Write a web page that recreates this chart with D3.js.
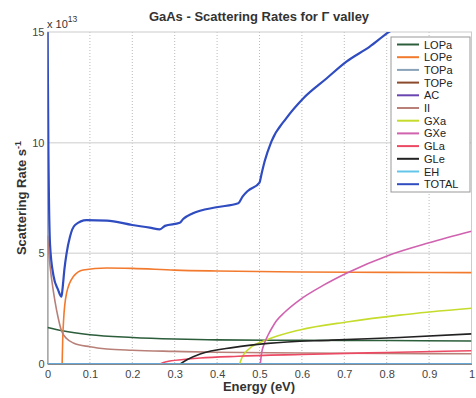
<!DOCTYPE html>
<html>
<head>
<meta charset="utf-8">
<script src="https://cdn.jsdelivr.net/npm/d3@7"></script>
<style>
  body { margin: 0; background: #fff; }
  svg { font-family: "Liberation Sans", Arial, sans-serif; }
</style>
</head>
<body>
<svg width="476" height="398"></svg>
<script>
// scattering rates (x 1e13 s^-1) vs energy (eV)
var LOPa = [[0,1.65],[0.035,1.5],[0.1,1.32],[0.2,1.2],[0.3,1.13],[0.4,1.09],[0.6,1.07],[0.8,1.06],[1.0,1.04]];
var LOPe = [[0.0345,0],[0.036,1.2],[0.038,2.0],[0.045,3.2],[0.061,3.95],[0.084,4.25],[0.14,4.34],[0.2,4.32],[0.3,4.24],[0.4,4.2],[0.6,4.16],[0.8,4.14],[1.0,4.13]];
var TOPa = [[0,0],[1,0]];
var TOPe = [[0,0],[1,0]];
var AC   = [[0,0],[1,0]];
var II   = [[0,5.8],[0.005,4.6],[0.01,3.8],[0.018,2.8],[0.025,2.1],[0.033,1.5],[0.045,1.15],[0.061,0.95],[0.1,0.78],[0.14,0.68],[0.2,0.62],[0.3,0.57],[0.4,0.53],[0.6,0.5],[0.8,0.48],[1.0,0.46]];
var GXa  = [[0.453,0],[0.46,0.35],[0.477,0.71],[0.516,1.08],[0.595,1.54],[0.71,1.91],[0.83,2.21],[1.0,2.52]];
var GXe  = [[0.502,0],[0.505,0.5],[0.51,0.85],[0.52,1.3],[0.53,1.65],[0.54,1.95],[0.56,2.35],[0.595,2.9],[0.65,3.55],[0.705,4.1],[0.807,4.93],[0.9,5.48],[1.0,6.0]];
var GLa  = [[0.265,0],[0.28,0.1],[0.32,0.2],[0.36,0.27],[0.45,0.35],[0.6,0.43],[0.8,0.52],[1.0,0.6]];
var GLe  = [[0.313,0],[0.33,0.2],[0.36,0.45],[0.44,0.75],[0.52,0.93],[0.67,1.08],[0.83,1.2],[1.0,1.36]];
var EH   = [[0,0],[1,0]];
var TOTAL = [[0,15.5],[0.002,10],[0.006,5.4],[0.014,4.0],[0.025,3.35],[0.033,3.04],[0.036,3.5],[0.04,4.3],[0.045,5.0],[0.053,5.75],[0.065,6.28],[0.092,6.5],[0.14,6.48],[0.2,6.28],[0.241,6.16],[0.265,6.08],[0.277,6.24],[0.312,6.38],[0.32,6.55],[0.343,6.81],[0.398,7.08],[0.45,7.26],[0.46,7.56],[0.473,7.83],[0.5,8.2],[0.505,8.6],[0.512,9.15],[0.528,10.05],[0.563,11.1],[0.603,12.0],[0.658,12.9],[0.705,13.66],[0.76,14.34],[0.803,14.97],[0.85,15.5]];

var names  = ['LOPa','LOPe','TOPa','TOPe','AC','II','GXa','GXe','GLa','GLe','EH','TOTAL'];
var series = [LOPa, LOPe, TOPa, TOPe, AC, II, GXa, GXe, GLa, GLe, EH, TOTAL];
var colors = ['#2c5e3c','#f27a2e','#8aa3b8','#8b4a2b','#6a44b0','#b88078','#c6dc2c','#d062b0','#ec4a64','#222222','#62c6ea','#2f4cc0'];

var xTicks = [0,0.1,0.2,0.3,0.4,0.5,0.6,0.7,0.8,0.9,1];
var yTicks = [0,5,10,15];

var svg = d3.select('svg');
var pLeft = 47.5, pRight = 471.5, pTop = 32, pBottom = 364;

var scaleX = d3.scaleLinear().domain([0,1]).range([pLeft,pRight]);
var scaleY = d3.scaleLinear().domain([0,15]).range([pBottom,pTop]);

svg.append('defs').append('clipPath').attr('id','plot')
    .append('rect')
    .attr('x',pLeft).attr('y',pTop)
    .attr('width',pRight-pLeft).attr('height',pBottom-pTop);

// grid
svg.append('g')
    .selectAll('line')
    .data(xTicks.slice(1,-1))
    .enter()
    .append('line')
    .attr('x1',function(d){ return scaleX(d); })
    .attr('x2',function(d){ return scaleX(d); })
    .attr('y1',pTop).attr('y2',pBottom)
    .attr('stroke','#bbb')
    .attr('stroke-dasharray','1,2');

svg.append('g')
    .selectAll('line')
    .data([5,10])
    .enter()
    .append('line')
    .attr('x1',pLeft).attr('x2',pRight)
    .attr('y1',function(d){ return scaleY(d); })
    .attr('y2',function(d){ return scaleY(d); })
    .attr('stroke','#ddd')
    .attr('stroke-width',1.5);

svg.append('rect')
    .attr('x',pLeft).attr('y',pTop)
    .attr('width',pRight-pLeft).attr('height',pBottom-pTop)
    .attr('fill','none')
    .attr('stroke','#ccc');

// axes
var xAxis = svg.append('g')
    .attr('transform','translate(0,'+pBottom+')')
    .call(d3.axisBottom(scaleX).tickValues(xTicks).tickSize(0).tickPadding(6).tickFormat(d3.format('')));
var yAxis = svg.append('g')
    .attr('transform','translate('+pLeft+',0)')
    .call(d3.axisLeft(scaleY).tickValues(yTicks).tickSize(0).tickPadding(3));
[xAxis, yAxis].forEach(function(a){
    a.select('.domain').attr('stroke','#888');
    a.selectAll('text').attr('font-size',11).attr('fill','#444').attr('font-family','"Liberation Sans", Arial, sans-serif');
});

// curves
var line = d3.line()
    .x(function(d){ return scaleX(d[0]); })
    .y(function(d){ return scaleY(d[1]); })
    .curve(d3.curveMonotoneX);

svg.append('g')
    .attr('clip-path','url(#plot)')
    .selectAll('path')
    .data(series)
    .enter()
    .append('path')
    .attr('d',line)
    .attr('fill','none')
    .attr('stroke',function(d,i){ return colors[i]; })
    .attr('stroke-width',function(d,i){ return names[i]=='TOTAL' ? 2.2 : 1.6; });

// legend
var lg = svg.append('g').attr('transform','translate(391,37)');
lg.append('rect')
    .attr('width',79).attr('height',155)
    .attr('fill','#fff')
    .attr('stroke','#999');
var item = lg.selectAll('g.item')
    .data(names)
    .enter()
    .append('g')
    .attr('class','item')
    .attr('transform',function(d,i){ return 'translate(0,'+(7.5+i*12.7)+')'; });
item.append('line')
    .attr('x1',6).attr('x2',28)
    .attr('stroke',function(d,i){ return colors[i]; })
    .attr('stroke-width',2);
item.append('text')
    .attr('x',33).attr('y',4)
    .attr('font-size',11)
    .attr('fill','#222')
    .text(function(d){ return d; });

// titles
svg.append('text')
    .attr('x',259).attr('y',21)
    .attr('text-anchor','middle')
    .attr('font-size',13)
    .attr('font-weight','bold')
    .attr('fill','#333')
    .text('GaAs - Scattering Rates for \u0393 valley');

var mult = svg.append('text')
    .attr('x',47).attr('y',28)
    .attr('font-size',11)
    .attr('fill','#333');
mult.append('tspan').text('x 10');
mult.append('tspan').attr('dy',-6).attr('font-size',8.5).text('13');

svg.append('text')
    .attr('x',259).attr('y',391)
    .attr('text-anchor','middle')
    .attr('font-size',13)
    .attr('font-weight','bold')
    .attr('fill','#333')
    .text('Energy (eV)');

var ylab = svg.append('text')
    .attr('transform','translate(26,198) rotate(-90)')
    .attr('text-anchor','middle')
    .attr('font-size',13)
    .attr('font-weight','bold')
    .attr('fill','#333');
ylab.append('tspan').text('Scattering Rate s');
ylab.append('tspan').attr('dy',-5).attr('font-size',9).text('-1');
</script>
</body>
</html>
